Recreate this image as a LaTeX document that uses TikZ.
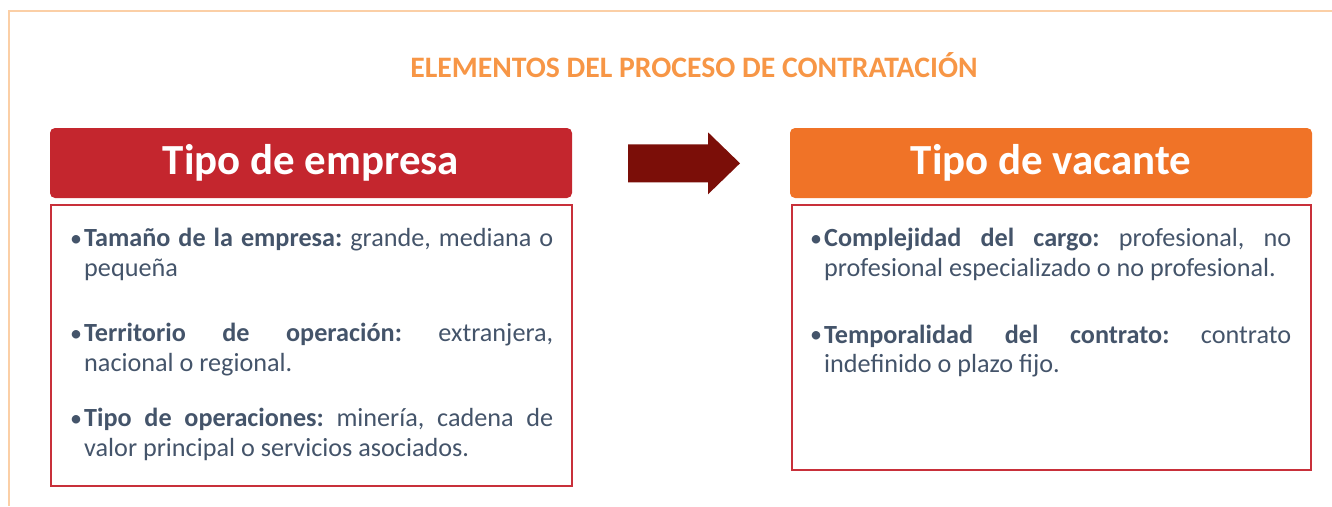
\documentclass[tikz,border=0pt]{standalone}
\usepackage{fontspec}
\setmainfont{Carlito}
\frenchspacing
\definecolor{frameorange}{HTML}{FBCFA6}
\definecolor{titleorange}{HTML}{F79646}
\definecolor{hdrred}{HTML}{C4262E}
\definecolor{hdrorange}{HTML}{F07327}
\definecolor{boxred}{HTML}{C8303A}
\definecolor{txtslate}{HTML}{44546A}
\definecolor{arrowred}{HTML}{7B0E08}
\tikzset{
  hdr/.style={rounded corners=5pt, minimum width=522pt, minimum height=70pt, inner sep=0pt,
    text=white, font=\fontsize{42.9}{50}\selectfont\bfseries},
  bodybox/.style={draw=boxred, line width=2pt, inner sep=0pt},
  item/.style={anchor=base west, inner sep=0pt, text=txtslate, font=\fontsize{26.2}{29.3}\selectfont},
}
\newcommand{\bulletitem}[2]{\parbox[t]{#1}{\frenchspacing\hangindent=12pt\hangafter=1\relax\makebox[12pt][l]{\hspace{-2pt}\raisebox{0.5pt}{\fontsize{24}{0}\selectfont•}}#2}}
\begin{document}
\begin{tikzpicture}[x=1pt,y=-1pt]
\useasboundingbox (0,0) rectangle (1332,506);
% outer frame
\draw[frameorange, line width=2pt] (9,506) -- (9,11) -- (1332,11);
% title
\node[text=titleorange, font=\fontsize{29.7}{34}\selectfont\bfseries, anchor=base, inner sep=0pt] (title) at (694,77) {ELEMENTOS DEL PROCESO DE CONTRATACIÓN};
% headers
\node[hdr, fill=hdrred] (hempresa) at (311,163) {Tipo de empresa};
\node[hdr, fill=hdrorange] (hvacante) at (1051,163) {Tipo de vacante};
% bodies
\node[bodybox, minimum width=521pt, minimum height=281pt] (bempresa) at (311.5,345.5) {};
\node[bodybox, minimum width=519pt, minimum height=265pt] (bvacante) at (1051.5,337.5) {};
% arrow
\fill[arrowred] (628,144.3) -- (708,144.3) -- (708,132.3) -- (740,163.3) -- (708,194.3) -- (708,182.3) -- (628,182.3) -- cycle;
\coordinate (arrowtip) at (740,163.3);
% left items
\node[item] (e1) at (72,246.7) {\bulletitem{481pt}{\textbf{Tamaño de la empresa:} grande, mediana o\linebreak pequeña}};
\node[item] (e2) at (72,341.7) {\bulletitem{481pt}{\textbf{Territorio de operación:} extranjera,\linebreak nacional o regional.}};
\node[item] (e3) at (72,426.7) {\bulletitem{481pt}{\textbf{Tipo de operaciones:} minería, cadena de\linebreak valor principal o servicios asociados.}};
% right items
\node[item] (v1) at (812,246.7) {\bulletitem{479pt}{\textbf{Complejidad del cargo:} profesional, no\linebreak profesional especializado o no profesional.}};
\node[item] (v2) at (812,343.3) {\bulletitem{479pt}{\textbf{Temporalidad del contrato:} contrato\linebreak indefinido o plazo fijo.}};
\end{tikzpicture}
\end{document}
